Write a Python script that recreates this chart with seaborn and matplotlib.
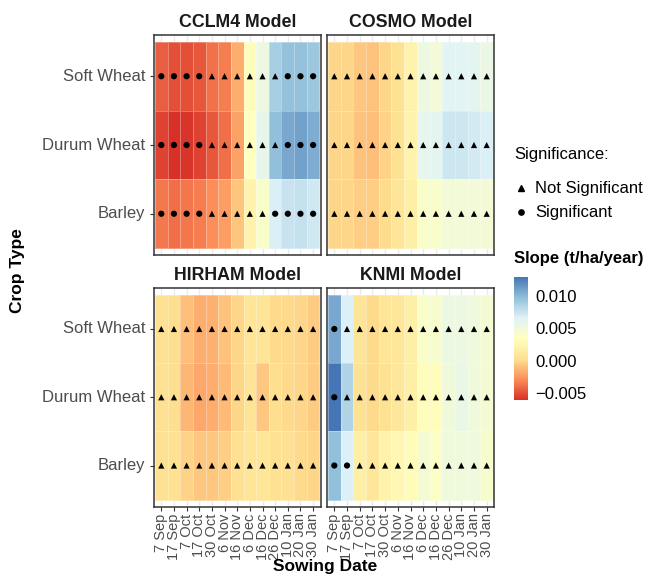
import numpy as np
import pandas as pd
import seaborn as sns
import matplotlib.pyplot as plt
from matplotlib.colors import LinearSegmentedColormap, Normalize
from matplotlib.lines import Line2D

sns.set_theme(style='white')
plt.rcParams['font.family'] = ['Liberation Sans', 'DejaVu Sans']

dates = ['7 Sep', '17 Sep', '7 Oct', '17 Oct', '30 Oct', '6 Nov', '16 Nov',
         '6 Dec', '16 Dec', '26 Dec', '10 Jan', '20 Jan', '30 Jan']
crops = ['Soft Wheat', 'Durum Wheat', 'Barley']
models = ['CCLM4 Model', 'COSMO Model', 'HIRHAM Model', 'KNMI Model']

# slope (t/ha/year), rows follow crops
cclm4_slope = [
    [-0.0045, -0.0050, -0.0050, -0.0047, -0.0038, -0.0035, -0.0017, 0.0032, 0.0053, 0.0088, 0.0096, 0.0096, 0.0092],
    [-0.0055, -0.0061, -0.0059, -0.0055, -0.0047, -0.0039, -0.0021, 0.0034, 0.0058, 0.0097, 0.0107, 0.0110, 0.0105],
    [-0.0036, -0.0039, -0.0037, -0.0035, -0.0029, -0.0023, -0.0008, 0.0021, 0.0040, 0.0068, 0.0075, 0.0077, 0.0072],
]
cosmo_slope = [
    [-0.0001, -0.0001, -0.0007, -0.0009, -0.0001, 0.0005, 0.0021, 0.0052, 0.0048, 0.0063, 0.0063, 0.0061, 0.0055],
    [-0.0001, -0.0001, -0.0009, -0.0010, -0.0003, 0.0005, 0.0021, 0.0059, 0.0061, 0.0073, 0.0073, 0.0071, 0.0068],
    [-0.0001, -0.0001, -0.0004, -0.0004, 0.0001, 0.0008, 0.0018, 0.0040, 0.0040, 0.0048, 0.0048, 0.0048, 0.0046],
]
hirham_slope = [
    [0.0004, 0.0002, -0.0010, -0.0017, -0.0015, -0.0009, -0.0001, 0.0008, 0.0006, 0.0000, 0.0000, -0.0001, -0.0006],
    [0.0004, 0.0002, -0.0013, -0.0019, -0.0017, -0.0012, -0.0001, 0.0006, -0.0007, 0.0002, 0.0000, -0.0001, -0.0006],
    [0.0004, 0.0003, -0.0003, -0.0007, -0.0007, -0.0004, 0.0004, 0.0008, 0.0008, 0.0004, 0.0004, 0.0000, -0.0001],
]
knmi_slope = [
    [0.0107, 0.0067, 0.0006, 0.0000, 0.0008, 0.0010, 0.0017, 0.0040, 0.0042, 0.0053, 0.0053, 0.0050, 0.0045],
    [0.0129, 0.0085, 0.0005, 0.0000, 0.0005, 0.0010, 0.0018, 0.0032, 0.0032, 0.0049, 0.0056, 0.0050, 0.0045],
    [0.0097, 0.0067, 0.0017, 0.0010, 0.0021, 0.0026, 0.0030, 0.0045, 0.0037, 0.0050, 0.0050, 0.0050, 0.0042],
]

# S = significant, N = not significant
cclm4_sig = ['SSSSNNNNNNSSS', 'SSSSNNNNNNSSS', 'SSSSNNNNNSSSS']
cosmo_sig = ['NNNNNNNNNNNNN', 'NNNNNNNNNNNNN', 'NNNNNNNNNNNNN']
hirham_sig = ['NNNNNNNNNNNNN', 'NNNNNNNNNNNNN', 'NNNNNNNNNNNNN']
knmi_sig = ['SNNNNNNNNNNNN', 'SNNNNNNNNNNNN', 'SSNNNNNNNNNNN']

sig_labels = ['Not Significant', 'Significant']

slopes = dict(zip(models, [cclm4_slope, cosmo_slope, hirham_slope, knmi_slope]))
sigs = dict(zip(models, [cclm4_sig, cosmo_sig, hirham_sig, knmi_sig]))

rows = []
for m in models:
    for i, c in enumerate(crops):
        for j, d in enumerate(dates):
            rows.append({'model': m, 'crop': c, 'date': d,
                         'slope': slopes[m][i][j],
                         'sig': sig_labels[1] if sigs[m][i][j] == 'S' else sig_labels[0]})
df = pd.DataFrame(rows)

cmap = LinearSegmentedColormap.from_list(
    'rdylbu7', ['#d73027', '#fc8d59', '#fee090', '#ffffbf', '#e0f3f8', '#91bfdb', '#4575b4'])
vmin, vmax = df['slope'].min(), df['slope'].max()
shapes = {'Not Significant': '^', 'Significant': 'o'}

W, H = 654, 577
fig = plt.figure(figsize=(W / 100, H / 100), dpi=100)


def px_axes(x0, y0, x1, y1):
    return fig.add_axes([x0 / W, 1 - y1 / H, (x1 - x0) / W, (y1 - y0) / H])


boxes = {
    'CCLM4 Model': (153.7, 35.0, 320.7, 255.0),
    'COSMO Model': (326.7, 35.0, 494.3, 255.0),
    'HIRHAM Model': (153.7, 288.0, 320.7, 506.5),
    'KNMI Model': (326.7, 288.0, 494.3, 506.5),
}

for k, m in enumerate(models):
    ax = px_axes(*boxes[m])
    sub = df[df['model'] == m]
    grid = sub.pivot(index='crop', columns='date', values='slope').reindex(index=crops, columns=dates)
    sns.heatmap(grid, ax=ax, cmap=cmap, vmin=vmin, vmax=vmax, cbar=False,
                linewidths=0.4, linecolor=(1, 1, 1, 0.3))
    pts = sub.assign(xp=pd.Categorical(sub['date'], categories=dates).codes + 0.5,
                     yp=pd.Categorical(sub['crop'], categories=crops).codes + 0.5)
    sns.scatterplot(data=pts, x='xp', y='yp', style='sig', markers=shapes,
                    color='black', s=20, linewidth=0, legend=False, ax=ax)
    ax.set_xlim(-0.1, len(dates) + 0.1)
    ax.set_ylim(len(crops) + 0.1, -0.1)
    ax.set_xticks(np.arange(len(dates)) + 0.5)
    ax.set_yticks(np.arange(len(crops)) + 0.5)
    ax.grid(True, axis='x', color='#ebebeb', lw=1.0)
    ax.grid(False, axis='y')
    ax.set_axisbelow(True)
    for s in ax.spines.values():
        s.set_visible(True)
        s.set_color('#333333')
        s.set_linewidth(1.1)
    ax.set_xlabel('')
    ax.set_ylabel('')
    bottom = k >= 2
    left = k % 2 == 0
    ax.tick_params(axis='x', bottom=bottom, labelbottom=bottom, length=3, width=0.8,
                   color='#333333', labelcolor='#4d4d4d', labelsize=10.5, pad=2)
    ax.tick_params(axis='y', left=left, labelleft=left, length=3, width=0.8,
                   color='#333333', labelcolor='#4d4d4d', labelsize=12, pad=3)
    ax.set_xticklabels(dates if bottom else [], rotation=90)
    ax.set_yticklabels(crops if left else [], rotation=0)
    x0, y0, x1, y1 = boxes[m]
    fig.text((x0 + x1) / 2 / W, 1 - (y0 - 12.5) / H, m, ha='center', va='center',
             fontsize=12.8, fontweight='bold', color='#1a1a1a')

fig.text(325 / W, 1 - 567 / H, 'Sowing Date', ha='center', va='center',
         fontsize=12.5, fontweight='bold', color='black')
fig.text(18 / W, 1 - 271 / H, 'Crop Type', ha='center', va='center', rotation=90,
         fontsize=12.5, fontweight='bold', color='black')

# significance legend, drawn by hand for exact placement
fig.text(514 / W, 1 - 154 / H, 'Significance:', ha='left', va='center',
         fontsize=12, color='black')
for lab, ypx in zip(sig_labels, [188, 212]):
    fig.add_artist(Line2D([521 / W], [1 - ypx / H], transform=fig.transFigure,
                          marker=shapes[lab], color='black', linestyle='none',
                          markersize=4.6 if shapes[lab] == '^' else 3.8))
    fig.text(535 / W, 1 - ypx / H, lab, ha='left', va='center', fontsize=12, color='black')

# colour bar
fig.text(514 / W, 1 - 258 / H, 'Slope (t/ha/year)', ha='left', va='center',
         fontsize=12, fontweight='bold', color='black')
cax = px_axes(514, 277, 528, 400)
sm = plt.cm.ScalarMappable(norm=Normalize(vmin, vmax), cmap=cmap)
cb = fig.colorbar(sm, cax=cax)
cb.outline.set_visible(False)
cb.set_ticks([-0.005, 0.0, 0.005, 0.010])
cb.set_ticklabels(['\u22120.005', '0.000', '0.005', '0.010'])
cax.tick_params(direction='in', color='white', length=3, width=0.8, left=True, right=True,
                labelsize=12, labelcolor='black', pad=5)

fig.savefig('out.png', dpi=100)
